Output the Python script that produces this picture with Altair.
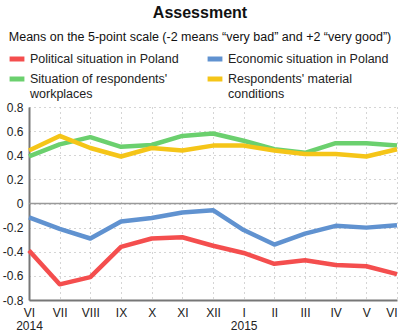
import altair as alt
import pandas as pd

months = ["VI 2014", "VII", "VIII", "IX", "X", "XI", "XII", "I 2015", "II", "III", "IV", "V", "VI"]
series_names = [
    "Political situation in Poland",
    "Economic situation in Poland",
    "Situation of respondents' workplaces",
    "Respondents' material conditions",
]
political = [-0.39, -0.67, -0.61, -0.36, -0.29, -0.28, -0.35, -0.41, -0.50, -0.47, -0.51, -0.52, -0.585]
economic = [-0.115, -0.21, -0.29, -0.15, -0.12, -0.075, -0.055, -0.22, -0.34, -0.25, -0.185, -0.20, -0.18]
workplaces = [0.39, 0.49, 0.55, 0.47, 0.485, 0.56, 0.58, 0.52, 0.45, 0.42, 0.50, 0.50, 0.48]
material = [0.44, 0.56, 0.46, 0.39, 0.46, 0.44, 0.48, 0.48, 0.44, 0.41, 0.41, 0.39, 0.45]
colors = ["#f44e4e", "#6092d0", "#6bd06e", "#f5c518"]
y_ticks = [-0.8, -0.6, -0.4, -0.2, 0, 0.2, 0.4, 0.6, 0.8]

rows = []
for k, (name, vals) in enumerate(zip(series_names, [political, economic, workplaces, material])):
    for m, v in zip(months, vals):
        rows.append({"month": m, "series": name, "value": v, "order": k})
df = pd.DataFrame(rows)

# legend is filled column by column: order the domain so rows read P/E, S/R
legend_order = [series_names[0], series_names[2], series_names[1], series_names[3]]
legend_colors = [colors[0], colors[2], colors[1], colors[3]]

label_expr = (
    "datum.label == \"Situation of respondents' workplaces\" ? [\"Situation of respondents'\", 'workplaces'] : "
    "datum.label == \"Respondents' material conditions\" ? [\"Respondents' material\", 'conditions'] : datum.label"
)

x_enc = alt.X(
    "month:O",
    sort=months,
    scale=alt.Scale(type="point", padding=0),
    axis=alt.Axis(
        title=None,
        labelAngle=0,
        labelExpr="split(datum.value, ' ')",
        labelFontSize=12,
        labelColor="#222",
        labelPadding=7,
        labelAlign={"condition": {"test": "datum.index == 1", "value": "right"}, "value": "center"},
        labelOverlap=False,
        ticks=False,
        domainColor="#777",
        domainWidth=2,
        grid=True,
        gridDash=[1, 4],
        gridColor="#aaa",
        labelLineHeight=13,
    ),
)

y_scale = alt.Scale(domain=[-0.8, 0.8], nice=False)
y_axis = alt.Axis(
    title=None,
    values=y_ticks,
    labelExpr="datum.value == 0 ? '0' : replace(format(datum.value, '.1f'), '\u2212', '-')",
    labelFontSize=12,
    labelColor="#222",
    labelPadding=6,
    labelOverlap=False,
    labelFlush=False,
    ticks=False,
    domainColor="#777",
    domainWidth=2,
    grid=True,
    gridDash=[1, 4],
    gridColor="#aaa",
)

lines = alt.Chart(df).mark_line(strokeWidth=4.5, strokeJoin="round").encode(
    x=x_enc,
    y=alt.Y("value:Q", scale=y_scale, axis=y_axis),
    order="order:Q",
    color=alt.Color(
        "series:N",
        scale=alt.Scale(domain=legend_order, range=legend_colors),
        legend=alt.Legend(
            title=None,
            orient="none",
            legendX=-22,
            legendY=-58,
            columns=2,
            columnPadding=18,
            rowPadding=-5,
            symbolType="stroke",
            symbolStrokeWidth=5,
            symbolSize=220,
            labelFontSize=12.5,
            labelColor="#222",
            labelOffset=3,
            labelLimit=300,
            labelExpr=label_expr,
            labelBaseline="middle",
        ),
    ),
)

zero = alt.Chart(pd.DataFrame({"value": [0]})).mark_rule(color="#999", strokeWidth=1.5).encode(
    y=alt.Y("value:Q", scale=y_scale, axis=y_axis)
)

chart = (
    alt.layer(zero, lines)
    .properties(
        width=368,
        height=193,
        autosize=alt.AutoSizeParams(type="none"),
        padding={"left": 29, "top": 107, "right": 3, "bottom": 33},
        title=alt.TitleParams(
            text="Assessment",
            subtitle="Means on the 5-point scale (-2 means \u201cvery bad\u201d and +2 \u201cvery good\u201d)",
            fontSize=16,
            fontWeight="bold",
            subtitleFontSize=12.5,
            subtitleColor="#111",
            color="#111",
            anchor="middle",
            frame="group",
            dx=-13,
            offset=6,
            subtitlePadding=10,
        ),
    )
    .configure(font="Liberation Sans")
    .configure_view(stroke=None)
)

chart.save("out.html", embed_options={"renderer": "svg", "actions": False})
